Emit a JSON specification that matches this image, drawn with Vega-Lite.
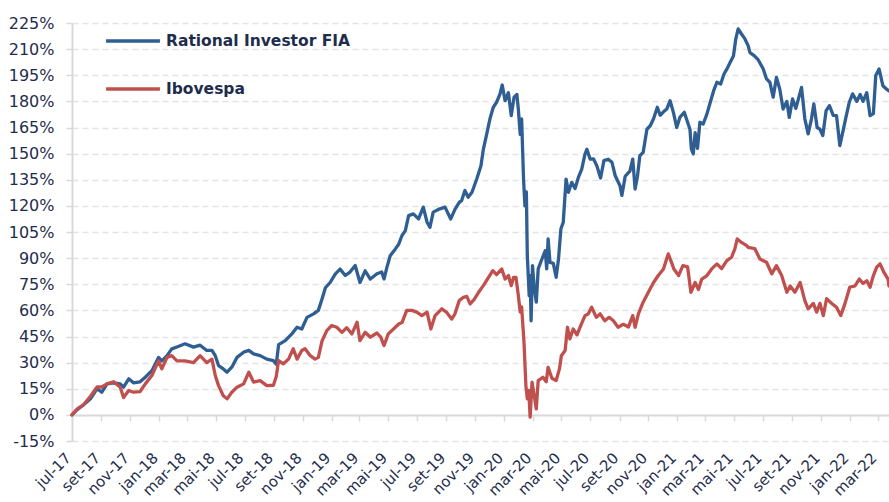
{
"$schema": "https://vega.github.io/schema/vega-lite/v6.json",
"width": 817, "height": 418,
"autosize": {"type": "none"},
"padding": {"left": 72, "top": 23, "right": 0, "bottom": 61},
"background": "#ffffff",
"config": {"view": {"stroke": null}, "font": "DejaVu Sans"},
"datasets": {
"rational": [
{"t":"2017-07-01","v":0},{"t":"2017-07-12","v":3},{"t":"2017-07-25","v":5.7},{"t":"2017-08-09","v":9.2},{"t":"2017-08-23","v":15},{"t":"2017-09-02","v":13},{"t":"2017-09-13","v":17.8},{"t":"2017-09-27","v":18.4},{"t":"2017-10-11","v":17.8},{"t":"2017-10-18","v":15.9},{"t":"2017-10-29","v":20.7},{"t":"2017-11-08","v":18.4},{"t":"2017-11-22","v":19},{"t":"2017-12-03","v":21.6},{"t":"2017-12-17","v":25.4},{"t":"2017-12-31","v":33},
{"t":"2018-01-07","v":31},{"t":"2018-01-18","v":34},{"t":"2018-01-28","v":37.9},{"t":"2018-02-08","v":39},{"t":"2018-02-25","v":40.8},{"t":"2018-03-15","v":38.9},{"t":"2018-03-29","v":40},{"t":"2018-04-12","v":37},{"t":"2018-04-23","v":37},{"t":"2018-04-30","v":34},{"t":"2018-05-07","v":28.3},{"t":"2018-05-17","v":26.4},{"t":"2018-05-25","v":24.5},{"t":"2018-06-04","v":27.4},{"t":"2018-06-15","v":33},{"t":"2018-06-29","v":36},{"t":"2018-07-10","v":37},{"t":"2018-07-20","v":35},{"t":"2018-08-03","v":34},{"t":"2018-08-17","v":32},{"t":"2018-08-31","v":31.2},{"t":"2018-09-06","v":29},{"t":"2018-09-11","v":40.3},{"t":"2018-09-25","v":42.6},{"t":"2018-10-09","v":46.5},{"t":"2018-10-20","v":50.3},{"t":"2018-10-30","v":49.3},{"t":"2018-11-10","v":56},{"t":"2018-11-24","v":58},{"t":"2018-12-04","v":60},{"t":"2018-12-12","v":66.7},{"t":"2018-12-19","v":73},{"t":"2018-12-29","v":76},
{"t":"2019-01-09","v":81},{"t":"2019-01-19","v":83.7},{"t":"2019-01-30","v":80},{"t":"2019-02-09","v":82},{"t":"2019-02-20","v":85.8},{"t":"2019-03-02","v":76},{"t":"2019-03-13","v":82.7},{"t":"2019-03-24","v":78},{"t":"2019-04-07","v":81},{"t":"2019-04-17","v":82},{"t":"2019-04-22","v":78},{"t":"2019-04-28","v":84.7},{"t":"2019-05-05","v":91.4},{"t":"2019-05-16","v":95.3},{"t":"2019-05-23","v":98},{"t":"2019-05-30","v":103},{"t":"2019-06-06","v":105.8},{"t":"2019-06-13","v":114.4},{"t":"2019-06-23","v":115.4},{"t":"2019-07-04","v":112.5},{"t":"2019-07-14","v":119.3},{"t":"2019-07-22","v":110.6},{"t":"2019-07-28","v":107.7},{"t":"2019-08-04","v":116.4},{"t":"2019-08-18","v":118.3},{"t":"2019-08-29","v":119.3},{"t":"2019-09-10","v":112.5},{"t":"2019-09-19","v":118},{"t":"2019-09-28","v":122},{"t":"2019-10-03","v":123},{"t":"2019-10-10","v":128.8},{"t":"2019-10-17","v":125},{"t":"2019-10-25","v":127.8},{"t":"2019-11-04","v":135.4},{"t":"2019-11-13","v":143},{"t":"2019-11-18","v":152.5},{"t":"2019-11-25","v":161},{"t":"2019-12-02","v":170},{"t":"2019-12-09","v":176.6},{"t":"2019-12-16","v":179.5},{"t":"2019-12-23","v":184},{"t":"2019-12-28","v":189.4},
{"t":"2020-01-03","v":180.4},{"t":"2020-01-10","v":185},{"t":"2020-01-16","v":171.8},{"t":"2020-01-22","v":182.4},{"t":"2020-01-28","v":184},{"t":"2020-01-31","v":175.6},{"t":"2020-02-04","v":161},{"t":"2020-02-07","v":170},{"t":"2020-02-11","v":135.4},{"t":"2020-02-14","v":120},{"t":"2020-02-17","v":128},{"t":"2020-02-19","v":91.4},{"t":"2020-02-23","v":68.5},{"t":"2020-02-25","v":80},{"t":"2020-02-27","v":54},{"t":"2020-03-01","v":85.7},{"t":"2020-03-04","v":75},{"t":"2020-03-09","v":64.7},{"t":"2020-03-13","v":83.8},{"t":"2020-03-21","v":89.5},{"t":"2020-03-28","v":94.3},{"t":"2020-03-31","v":83.8},{"t":"2020-04-03","v":101},{"t":"2020-04-07","v":87.6},{"t":"2020-04-14","v":87},{"t":"2020-04-20","v":79},{"t":"2020-04-25","v":89.5},{"t":"2020-04-30","v":106.7},{"t":"2020-05-05","v":110.5},{"t":"2020-05-11","v":135.4},{"t":"2020-05-16","v":127.8},{"t":"2020-05-23","v":133.5},{"t":"2020-05-30","v":130},{"t":"2020-06-06","v":136.3},{"t":"2020-06-13","v":141},{"t":"2020-06-20","v":149.7},{"t":"2020-06-24","v":152.5},{"t":"2020-07-01","v":146.8},{"t":"2020-07-08","v":147},{"t":"2020-07-15","v":143},{"t":"2020-07-23","v":136},{"t":"2020-07-30","v":146},{"t":"2020-08-08","v":146.8},{"t":"2020-08-16","v":145},{"t":"2020-08-23","v":137.3},{"t":"2020-09-02","v":131.6},{"t":"2020-09-06","v":126},{"t":"2020-09-13","v":137},{"t":"2020-09-23","v":140},{"t":"2020-09-29","v":146.8},{"t":"2020-10-04","v":129.7},{"t":"2020-10-09","v":137},{"t":"2020-10-14","v":148.8},{"t":"2020-10-21","v":150.7},{"t":"2020-10-29","v":164},{"t":"2020-11-05","v":166},{"t":"2020-11-12","v":170},{"t":"2020-11-20","v":176.6},{"t":"2020-11-26","v":172},{"t":"2020-12-03","v":174},{"t":"2020-12-10","v":175.6},{"t":"2020-12-17","v":180.4},{"t":"2020-12-24","v":173.7},{"t":"2020-12-31","v":165},
{"t":"2021-01-07","v":171},{"t":"2021-01-16","v":173.7},{"t":"2021-01-23","v":168},{"t":"2021-01-28","v":164},{"t":"2021-01-31","v":152.7},{"t":"2021-02-04","v":149.8},{"t":"2021-02-08","v":162},{"t":"2021-02-13","v":153},{"t":"2021-02-18","v":168},{"t":"2021-02-25","v":167},{"t":"2021-03-05","v":172.8},{"t":"2021-03-12","v":179.5},{"t":"2021-03-19","v":186},{"t":"2021-03-26","v":191},{"t":"2021-04-03","v":190},{"t":"2021-04-10","v":195.7},{"t":"2021-04-16","v":198.5},{"t":"2021-04-23","v":202.4},{"t":"2021-04-30","v":206},{"t":"2021-05-05","v":215.9},{"t":"2021-05-10","v":221.6},{"t":"2021-05-17","v":218.7},{"t":"2021-05-24","v":216},{"t":"2021-05-31","v":212},{"t":"2021-06-04","v":208},{"t":"2021-06-14","v":206},{"t":"2021-06-21","v":204},{"t":"2021-07-02","v":198.6},{"t":"2021-07-09","v":192.9},{"t":"2021-07-16","v":191},{"t":"2021-07-23","v":182.4},{"t":"2021-07-30","v":193.8},{"t":"2021-08-06","v":187},{"t":"2021-08-13","v":175.6},{"t":"2021-08-21","v":180},{"t":"2021-08-26","v":170.8},{"t":"2021-09-02","v":181.4},{"t":"2021-09-09","v":176},{"t":"2021-09-14","v":181},{"t":"2021-09-21","v":188},{"t":"2021-09-28","v":170},{"t":"2021-10-05","v":161.3},{"t":"2021-10-12","v":170},{"t":"2021-10-17","v":178.5},{"t":"2021-10-24","v":165},{"t":"2021-10-30","v":164},{"t":"2021-11-05","v":160.4},{"t":"2021-11-12","v":174.7},{"t":"2021-11-19","v":177.5},{"t":"2021-11-27","v":172},{"t":"2021-12-04","v":171.8},{"t":"2021-12-11","v":154.6},{"t":"2021-12-17","v":162},{"t":"2021-12-24","v":171},{"t":"2021-12-31","v":179.5},
{"t":"2022-01-07","v":184.3},{"t":"2022-01-16","v":180},{"t":"2022-01-23","v":184},{"t":"2022-01-29","v":180},{"t":"2022-02-06","v":185},{"t":"2022-02-13","v":171.8},{"t":"2022-02-20","v":173},{"t":"2022-02-25","v":194.8},{"t":"2022-03-04","v":198.6},{"t":"2022-03-12","v":189},{"t":"2022-03-20","v":187},{"t":"2022-03-25","v":186}
],
"ibov": [
{"t":"2017-07-01","v":0},{"t":"2017-07-12","v":3.5},{"t":"2017-07-25","v":5.7},{"t":"2017-08-09","v":10.7},{"t":"2017-08-23","v":16},{"t":"2017-09-02","v":16},{"t":"2017-09-13","v":17.8},{"t":"2017-09-27","v":19},{"t":"2017-10-11","v":15.9},{"t":"2017-10-18","v":10},{"t":"2017-10-29","v":14},{"t":"2017-11-08","v":13},{"t":"2017-11-22","v":13.4},{"t":"2017-12-03","v":17.8},{"t":"2017-12-17","v":22.6},{"t":"2017-12-31","v":31},
{"t":"2018-01-07","v":26.4},{"t":"2018-01-18","v":33},{"t":"2018-01-28","v":34},{"t":"2018-02-08","v":31},{"t":"2018-02-25","v":31},{"t":"2018-03-15","v":30},{"t":"2018-03-29","v":34},{"t":"2018-04-12","v":30},{"t":"2018-04-23","v":32},{"t":"2018-04-30","v":22.6},{"t":"2018-05-07","v":16.8},{"t":"2018-05-17","v":11},{"t":"2018-05-25","v":9.2},{"t":"2018-06-04","v":13},{"t":"2018-06-15","v":15.9},{"t":"2018-06-29","v":17.8},{"t":"2018-07-10","v":24.5},{"t":"2018-07-20","v":18.8},{"t":"2018-08-03","v":19.7},{"t":"2018-08-17","v":16.8},{"t":"2018-08-31","v":17},{"t":"2018-09-06","v":22},{"t":"2018-09-11","v":31.2},{"t":"2018-09-21","v":29.3},{"t":"2018-10-02","v":32},{"t":"2018-10-12","v":38},{"t":"2018-10-20","v":32},{"t":"2018-10-30","v":37},{"t":"2018-11-06","v":38},{"t":"2018-11-17","v":34},{"t":"2018-11-27","v":32},{"t":"2018-12-04","v":33},{"t":"2018-12-12","v":42.6},{"t":"2018-12-22","v":48.4},
{"t":"2019-01-01","v":51.3},{"t":"2019-01-12","v":50.3},{"t":"2019-01-23","v":47.4},{"t":"2019-02-02","v":50},{"t":"2019-02-13","v":46.5},{"t":"2019-02-24","v":53.2},{"t":"2019-03-02","v":42.6},{"t":"2019-03-13","v":47.4},{"t":"2019-03-24","v":44.6},{"t":"2019-04-07","v":47},{"t":"2019-04-15","v":44.6},{"t":"2019-04-22","v":39.8},{"t":"2019-05-01","v":46.5},{"t":"2019-05-12","v":49.3},{"t":"2019-05-23","v":52.2},{"t":"2019-05-30","v":53},{"t":"2019-06-09","v":60},{"t":"2019-06-20","v":60},{"t":"2019-06-30","v":59},{"t":"2019-07-11","v":57},{"t":"2019-07-22","v":59},{"t":"2019-07-30","v":49.3},{"t":"2019-08-08","v":57},{"t":"2019-08-22","v":60.9},{"t":"2019-09-01","v":59},{"t":"2019-09-12","v":55},{"t":"2019-09-19","v":58},{"t":"2019-09-28","v":65.6},{"t":"2019-10-07","v":67.5},{"t":"2019-10-14","v":68},{"t":"2019-10-21","v":63.7},{"t":"2019-10-29","v":66},{"t":"2019-11-08","v":70.4},{"t":"2019-11-18","v":74.2},{"t":"2019-11-29","v":79},{"t":"2019-12-08","v":82.8},{"t":"2019-12-16","v":80.5},{"t":"2019-12-27","v":83.8},
{"t":"2020-01-03","v":78},{"t":"2020-01-10","v":80},{"t":"2020-01-16","v":74.2},{"t":"2020-01-21","v":79},{"t":"2020-01-26","v":79},{"t":"2020-01-31","v":68.5},{"t":"2020-02-04","v":59},{"t":"2020-02-07","v":62},{"t":"2020-02-12","v":41.7},{"t":"2020-02-16","v":16.8},{"t":"2020-02-19","v":9.2},{"t":"2020-02-22","v":14},{"t":"2020-02-25","v":-1.3},{"t":"2020-02-29","v":18.8},{"t":"2020-03-04","v":12},{"t":"2020-03-09","v":3.4},{"t":"2020-03-13","v":19.7},{"t":"2020-03-23","v":21.6},{"t":"2020-03-30","v":19},{"t":"2020-04-03","v":27.3},{"t":"2020-04-11","v":21},{"t":"2020-04-20","v":19.7},{"t":"2020-04-27","v":26.4},{"t":"2020-05-01","v":34},{"t":"2020-05-09","v":37},{"t":"2020-05-14","v":50.3},{"t":"2020-05-19","v":43.6},{"t":"2020-05-26","v":49.3},{"t":"2020-06-03","v":46},{"t":"2020-06-11","v":51.3},{"t":"2020-06-20","v":57},{"t":"2020-06-27","v":58},{"t":"2020-07-04","v":61.8},{"t":"2020-07-14","v":56},{"t":"2020-07-22","v":58},{"t":"2020-08-01","v":54},{"t":"2020-08-10","v":56},{"t":"2020-08-19","v":54},{"t":"2020-08-29","v":50.3},{"t":"2020-09-09","v":52},{"t":"2020-09-20","v":50.5},{"t":"2020-09-29","v":57},{"t":"2020-10-04","v":50.3},{"t":"2020-10-11","v":58},{"t":"2020-10-21","v":64.7},{"t":"2020-11-01","v":70.4},{"t":"2020-11-12","v":76},{"t":"2020-11-22","v":80},{"t":"2020-12-03","v":83.8},{"t":"2020-12-13","v":92.4},{"t":"2020-12-18","v":89},{"t":"2020-12-25","v":83.8},
{"t":"2021-01-04","v":80},{"t":"2021-01-13","v":85.7},{"t":"2021-01-23","v":85},{"t":"2021-01-30","v":70.4},{"t":"2021-02-08","v":76},{"t":"2021-02-15","v":72},{"t":"2021-02-22","v":78},{"t":"2021-03-05","v":80},{"t":"2021-03-15","v":83.8},{"t":"2021-03-26","v":86.7},{"t":"2021-04-05","v":84},{"t":"2021-04-16","v":88.6},{"t":"2021-04-26","v":90.5},{"t":"2021-05-03","v":95.3},{"t":"2021-05-08","v":101},{"t":"2021-05-17","v":99},{"t":"2021-05-28","v":97.2},{"t":"2021-05-31","v":96.2},{"t":"2021-06-14","v":95.5},{"t":"2021-06-25","v":89.5},{"t":"2021-07-09","v":87.6},{"t":"2021-07-20","v":81},{"t":"2021-07-30","v":85.7},{"t":"2021-08-10","v":80},{"t":"2021-08-21","v":70.4},{"t":"2021-08-28","v":74},{"t":"2021-09-07","v":70.4},{"t":"2021-09-18","v":76},{"t":"2021-09-28","v":65.6},{"t":"2021-10-05","v":60.9},{"t":"2021-10-16","v":64},{"t":"2021-10-23","v":59},{"t":"2021-10-30","v":64},{"t":"2021-11-06","v":57},{"t":"2021-11-13","v":66.7},{"t":"2021-11-24","v":64},{"t":"2021-12-04","v":61.8},{"t":"2021-12-13","v":57},{"t":"2021-12-22","v":64},
{"t":"2022-01-01","v":73.3},{"t":"2022-01-12","v":74},{"t":"2022-01-21","v":78},{"t":"2022-01-29","v":75.5},{"t":"2022-02-06","v":77},{"t":"2022-02-13","v":73.3},{"t":"2022-02-20","v":80},{"t":"2022-02-27","v":84.8},{"t":"2022-03-06","v":86.7},{"t":"2022-03-14","v":82},{"t":"2022-03-23","v":78},{"t":"2022-03-25","v":74}
]
},
"encoding": {
  "x": {"field": "t", "type": "temporal", "scale": {"type": "utc", "nice": false},
    "axis": {"title": null, "grid": false, "offset": -26.1,
      "tickCount": {"interval": "month", "step": 2},
      "labelExpr": "['jan','fev','mar','abr','mai','jun','jul','ago','set','out','nov','dez'][utcmonth(datum.value)] + '-' + utcFormat(datum.value, '%y')",
      "labelAngle": -45, "labelAlign": "right", "labelBaseline": "middle", "labelOffset": -4,
      "labelPadding": 34, "labelFont": "DejaVu Sans", "labelFontSize": 15, "labelColor": "#1F2D4D",
      "labelOverlap": false, "labelBound": false, "labelFlush": false,
      "domainColor": "#D9D9D9", "domainWidth": 2, "tickColor": "#D9D9D9", "tickSize": 6, "tickWidth": 1.5}},
  "y": {"field": "v", "type": "quantitative", "scale": {"domain": [-15, 225], "nice": false, "zero": false},
    "axis": {"title": null, "values": [-15,0,15,30,45,60,75,90,105,120,135,150,165,180,195,210,225],
      "labelExpr": "datum.value + '%'", "labelFont": "DejaVu Sans", "labelFontSize": 16, "labelColor": "#1F2D4D",
      "labelPadding": 12, "domainColor": "#D9D9D9", "domainWidth": 2, "tickColor": "#D9D9D9", "tickSize": 6, "tickWidth": 1.5,
      "grid": true, "gridColor": "#E4E4E4", "gridDash": [6, 4], "gridWidth": 1.5}}
},
"layer": [
  {"data": {"name": "rational"},
   "mark": {"type": "line", "strokeWidth": 3.3, "strokeJoin": "round", "strokeCap": "round"},
   "encoding": {"color": {"datum": "Rational Investor FIA", "type": "nominal",
      "scale": {"domain": ["Rational Investor FIA", "Ibovespa"], "range": ["#2F5E93", "#C0504D"]},
      "legend": {"title": null, "orient": "none", "legendX": 32, "legendY": -11, "padding": 0,
        "symbolType": "stroke", "symbolSize": 2900, "symbolStrokeWidth": 3.5,
        "labelFont": "DejaVu Sans", "labelFontWeight": "bold", "labelFontSize": 15.5, "labelColor": "#1F2D4D",
        "labelLimit": 400, "labelOffset": 4, "rowPadding": 10}}}},
  {"data": {"name": "ibov"},
   "mark": {"type": "line", "strokeWidth": 3.3, "strokeJoin": "round", "strokeCap": "round"},
   "encoding": {"color": {"datum": "Ibovespa", "type": "nominal"}}}
]
}
